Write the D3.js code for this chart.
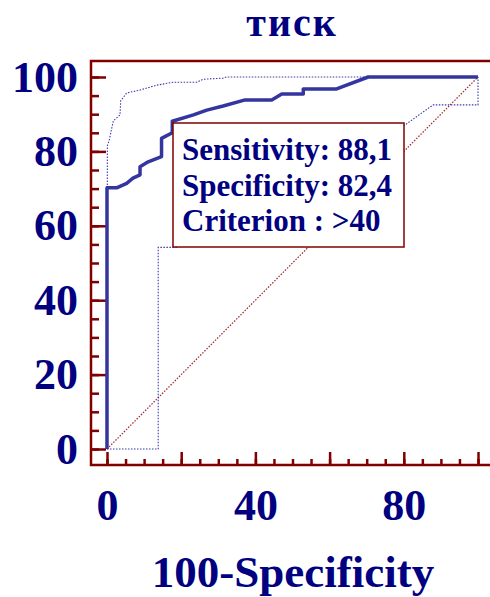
<!DOCTYPE html>
<html>
<head>
<meta charset="utf-8">
<script src="https://d3js.org/d3.v7.min.js"></script>
<style>
  body { margin: 0; background: #fff; }
  text { font-family: "Liberation Serif", "Times New Roman", serif; font-weight: bold; fill: #000080; }
</style>
</head>
<body>
<script>
// ROC curve, values in percent: [100-Specificity, Sensitivity]
var roc = [[0,0],[0,70.2],[2.6,70.2],[5.3,71.4],[7,72.8],[8.9,73.7],[8.9,75.9],[11.1,77.2],
  [14.7,78.6],[14.7,83.5],[17.6,85],[17.6,88.1],[23.3,89.8],[26.9,91.1],[31.3,92.2],
  [37,93.8],[44.4,93.8],[47.1,95.4],[52.9,95.4],[52.9,96.8],[61.9,96.8],[70.4,100],[100,100]];
// confidence bounds
var upperBand = [[0,0],[0.1,81.5],[0.6,83],[1.7,88.2],[3.5,89.8],[3.7,93.6],[5.3,95.7],[8.9,96.5],
  [13.4,97.8],[17.9,98.6],[24.2,98.6],[25.9,99.4],[31.3,99.7],[32.2,100],[100,100]];
var lowerBand = [[0,0],[13.8,0],[13.8,54.2],[19,54.2],[30,66],[45,75],[60,81],[72,85],
  [80.3,87.1],[87.9,92.5],[100,92.5],[100,100]];
var diagonal = [[0,0],[100,100]];
var majorTicks = [0,20,40,60,80,100];
var xTickLabels = [0,40,80];
var minorTicks = d3.range(0, 101, 5);
var infoLines = ['Sensitivity: 88,1', 'Specificity: 82,4', 'Criterion : >40'];

var W = 490, H = 597;
var AXIS = '#800000';
var svg = d3.select('body').append('svg').attr('width', W).attr('height', H);

var x = d3.scaleLinear().domain([0, 100]).range([107, 478]);
var y = d3.scaleLinear().domain([0, 100]).range([449, 77]);
var axisX = 91, axisY = 465, topY = 61;

// title
svg.append('text').attr('x', 292).attr('y', 36).attr('text-anchor', 'middle')
  .style('font-size', '40px').style('letter-spacing', '2px').text('тиск');

// frame lines
svg.append('path').attr('fill', 'none').attr('stroke', AXIS).attr('stroke-width', 2.5)
  .attr('d', 'M' + W + ',' + topY + 'H' + axisX + 'V' + (axisY + 1.2) + 'M' + axisX + ',' + axisY + 'H' + W);

// y axis ticks
var yMinor = svg.append('g').attr('transform', 'translate(' + axisX + ',0)')
  .call(d3.axisLeft(y).tickValues(minorTicks).tickSize(-8).tickFormat(''));
var yMajor = svg.append('g').attr('transform', 'translate(' + axisX + ',0)')
  .call(d3.axisLeft(y).tickValues(majorTicks).tickSize(-15).tickPadding(13));
// x axis ticks
var xMinor = svg.append('g').attr('transform', 'translate(0,' + axisY + ')')
  .call(d3.axisBottom(x).tickValues(minorTicks).tickSize(-6).tickFormat(''));
var xMajor = svg.append('g').attr('transform', 'translate(0,' + axisY + ')')
  .call(d3.axisBottom(x).tickValues(majorTicks).tickSize(-13).tickPadding(24)
    .tickFormat(function (d) { return xTickLabels.indexOf(d) >= 0 ? d : ''; }));

[yMinor, yMajor, xMinor, xMajor].forEach(function (g) {
  g.select('.domain').remove();
  g.selectAll('line').attr('stroke', AXIS).attr('stroke-width', 2.5);
  g.selectAll('text').attr('fill', '#000080').style('font-size', '44px')
    .style('font-family', '"Liberation Serif", serif').style('font-weight', 'bold');
});

var line = d3.line().x(function (d) { return x(d[0]); }).y(function (d) { return y(d[1]); });

// diagonal reference
svg.append('path').datum(diagonal).attr('d', line).attr('fill', 'none')
  .attr('stroke', '#a02020').attr('stroke-width', 1.2).attr('stroke-dasharray', '1.5,1.5');

// confidence bands
[upperBand, lowerBand].forEach(function (b) {
  svg.append('path').datum(b).attr('d', line).attr('fill', 'none')
    .attr('stroke', '#3a3aa8').attr('stroke-width', 1.1).attr('stroke-dasharray', '1.5,1.5');
});

// ROC curve
svg.append('path').datum(roc).attr('d', line).attr('fill', 'none')
  .attr('stroke', '#3535a0').attr('stroke-width', 3.5).attr('stroke-linejoin', 'round');

// info box
svg.append('rect').attr('x', 173).attr('y', 123).attr('width', 231).attr('height', 124)
  .attr('fill', '#fff').attr('stroke', AXIS).attr('stroke-width', 1.5);
svg.selectAll('.info').data(infoLines).enter().append('text')
  .attr('class', 'info')
  .attr('x', 182).attr('y', function (d, i) { return 160 + i * 35.5; })
  .style('font-size', '31px').text(function (d) { return d; });

// x axis title
svg.append('text').attr('x', 293).attr('y', 587).attr('text-anchor', 'middle')
  .style('font-size', '45px').text('100-Specificity');
</script>
</body>
</html>
